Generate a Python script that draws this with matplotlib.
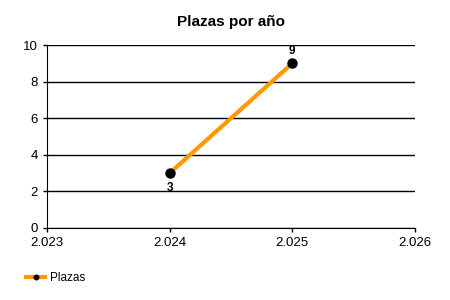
import matplotlib
matplotlib.use("Agg")
import matplotlib.pyplot as plt
from matplotlib.ticker import FuncFormatter

plt.rcParams["font.family"] = ["Liberation Sans", "DejaVu Sans"]

years = [2024, 2025]
plazas = [3, 9]
x_ticks = [2023, 2024, 2025, 2026]
y_ticks = [0, 2, 4, 6, 8, 10]
title = "Plazas por año"
series_name = "Plazas"

fig = plt.figure(figsize=(4.5, 3), dpi=100)
ax = fig.add_axes([47 / 450, 72 / 300, 368 / 450, 183 / 300])

line, = ax.plot(years, plazas, color="#FF9900", linewidth=3, marker="o",
                markersize=6.5, markerfacecolor="black", markeredgecolor="black",
                label=series_name, zorder=3)

for x, y in zip(years, plazas):
    offset = -11 if y == min(plazas) else 9
    ax.annotate(str(y), (x, y), xytext=(0, offset), textcoords="offset points",
                ha="center", va="center", fontsize=8.5, fontweight="bold")

ax.set_xlim(x_ticks[0], x_ticks[-1])
ax.set_ylim(y_ticks[0], y_ticks[-1])
ax.set_xticks(x_ticks)
ax.set_yticks(y_ticks)
ax.xaxis.set_major_formatter(FuncFormatter(lambda v, _: f"{int(v) // 1000}.{int(v) % 1000:03d}"))
ax.yaxis.grid(True, color="black", linewidth=1)
ax.set_axisbelow(True)
for side in ("top", "right"):
    ax.spines[side].set_visible(False)
ax.tick_params(labelsize=9.5, length=3, width=1, colors="black")

ax.set_title(title, fontsize=11, fontweight="bold", pad=14)

fig.legend(handles=[line], loc="center left", bbox_to_anchor=(0.035, 0.073),
           frameon=False, fontsize=8.5, handlelength=1.6, handletextpad=0.4,
           markerscale=0.5)

fig.savefig("out.png", dpi=100)
